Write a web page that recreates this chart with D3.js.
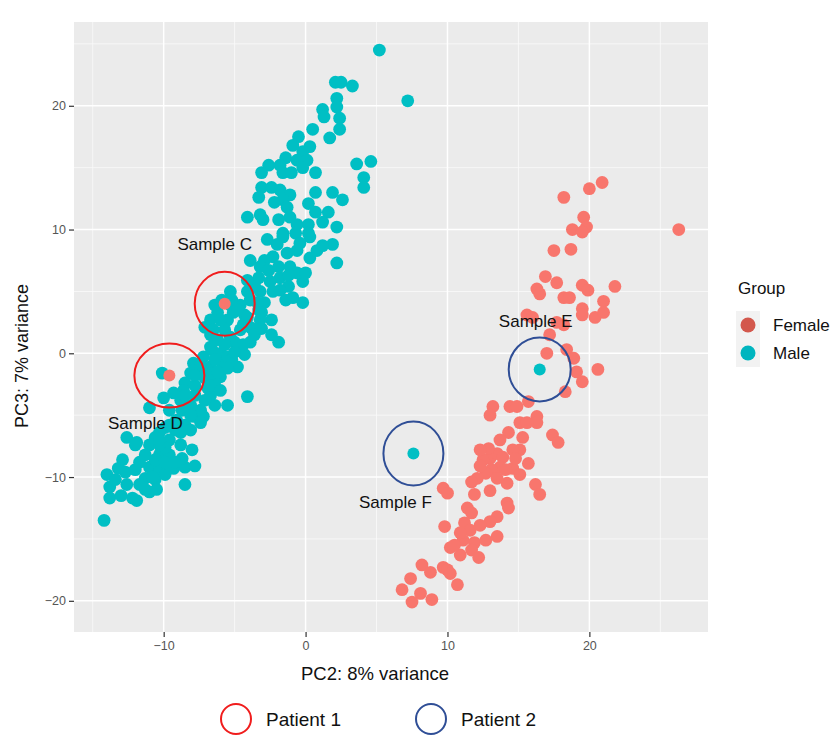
<!DOCTYPE html>
<html>
<head>
<meta charset="utf-8">
<script src="https://cdn.jsdelivr.net/npm/d3@7"></script>
<style>
  body { margin: 0; background: #fff; }
  text { font-family: "Liberation Sans", Arial, sans-serif; }
</style>
</head>
<body>
<svg id="vis"></svg>
<script>
  // PC2 / PC3 scores, [PC2, PC3]
  var male = [
    [5.2,24.5],[2.1,21.9],[2.5,21.9],[3.3,21.6],[7.2,20.4],[2.2,20.6],[2.2,19.9],[1.2,19.7],[1.3,19.1],[2.4,19.0],
    [2.4,18.1],[1.7,17.4],[0.5,18.1],[-0.5,17.5],[-0.9,16.8],[0.3,16.7],[-0.2,16.3],[-1.4,15.8],[-0.6,15.6],[0.1,15.6],
    [-1.8,15.2],[-2.6,15.2],[-3.1,14.6],[-1.6,14.6],[-1.0,14.6],[-0.2,15.0],[0.7,14.6],[3.6,15.3],[4.6,15.5],[4.1,14.2],
    [4.1,13.4],[-3.1,13.4],[-2.4,13.4],[-1.8,13.2],[-1.1,12.8],[-3.3,12.6],[-2.2,12.2],[-1.6,12.4],[0.7,13.0],[1.9,13.0],
    [2.6,12.4],[0.2,12.1],[0.7,11.4],[1.6,11.4],[1.2,10.6],[2.2,10.2],[-1.3,11.8],[-4.1,11.0],[-3.2,11.2],[-3.0,10.8],
    [-1.9,10.8],[-1.1,11.0],[-0.6,10.4],[0.2,10.4],[-1.6,9.7],[-0.7,9.7],[0.2,9.7],
    [-3.9,7.5],[-2.7,9.2],[-2.0,8.8],[-1.6,9.4],[0.3,9.4],[0.8,8.3],[-0.6,8.3],[-1.3,8.1],[-2.3,7.8],[-2.9,7.5],
    [-3.2,7.0],[-2.6,6.7],[-1.9,7.0],[-1.1,7.0],[-0.2,5.8],[-0.6,6.5],[-1.8,6.1],[-2.5,5.8],[-3.3,6.1],[-3.7,5.4],
    [-4.1,5.0],[-3.2,5.0],[-2.3,5.0],[-0.9,4.5],[-0.2,4.1],[-2.9,4.1],[-3.4,4.1],[-3.9,4.3],
    [-2.4,2.7],[-2.4,1.5],[-1.9,0.9],[-3.2,2.7],[-3.9,2.1],[-4.6,1.9],[-5.3,5.0],[-5.9,4.3],[-6.2,3.3],[-6.7,2.7],
    [-7.1,2.1],[-6.5,1.9],[-5.5,2.7],[-5.1,3.3],
    [-4.8,-1.1],[-6.0,0.0],[-6.7,0.5],[-7.2,-0.3],[-7.9,-0.8],[-8.1,-1.6],[-7.4,-1.6],[-6.7,-1.1],[-5.3,1.3],[-6.2,1.1],
    [-4.6,0.5],[-1.2,5.4],[-4.1,-3.5],[-5.5,-4.2],[-10.0,-3.6],[-11.0,-4.4],[-10.1,-1.6],[-5.7,-0.9],[-6.0,-1.9],[-3.9,0.9],
    [-5.0,0.9],[-3.7,1.9],[-4.3,3.1],[-4.6,3.9],[-5.7,1.9],[-4.1,5.9],
    [-8.5,-2.4],[-7.8,-2.6],[-7.1,-2.0],[-6.4,-2.3],[-8.8,-3.8],[-8.1,-4.2],[-7.4,-4.6],[-6.7,-3.4],[-6.4,-4.2],[-7.9,-5.1],
    [-7.2,-5.1],[-8.5,-5.8],[-9.2,-6.2],[-9.9,-6.0],[-10.3,-6.4],[-10.6,-6.8],[-9.6,-7.0],[-8.8,-7.4],[-8.1,-6.2],[-11.0,-7.4],
    [-11.3,-8.2],[-10.3,-8.2],[-9.6,-8.2],[-11.7,-8.8],[-11.0,-9.2],[-10.3,-9.4],[-12.0,-9.4],[-11.3,-10.1],[-10.6,-10.2],[-12.6,-6.8],
    [-11.9,-7.2],[-12.9,-8.6],[-14.0,-9.8],[-13.8,-10.8],[-13.8,-11.7],[-12.6,-10.6],[-12.2,-11.7],[-11.9,-11.9],[-11.0,-11.2],[-10.8,-10.0],
    [-9.3,-9.3],[-8.5,-9.2],[-7.8,-9.1],[-8.5,-10.6],[-14.2,-13.5],[-6.9,-2.8],[-7.4,-5.6],[-6.6,-1.6],[-5.9,-0.7],[-9.3,-3.2],
    [-8.6,-3.0],[-9.1,-5.4],[-8.7,-4.6],[-12.0,-7.4],[-13.4,-10.2],[-13.0,-11.5],[-11.7,-10.6],[-9.9,-9.8],[-10.5,-11.0],[-8.0,-7.8],
    [-6.6,0.3],[-5.5,-0.3],[-7.7,-0.9],[-6.4,3.9],[-5.2,4.3],[2.2,7.3],[1.9,8.8],[0.0,6.5],
    [-9.9,-7.6],[-10.6,-8.6],[-9.6,-4.6],[-8.5,-3.4],[-7.8,-3.4],[-7.1,-3.8],[-6.7,-2.6],[-6.0,-3.0],[-7.4,-0.9],[-6.4,-0.5],
    [-5.7,0.7],[-6.7,1.5],[-6.0,2.7],[-5.3,3.9],[-4.4,2.3],[-3.3,3.5],[-4.3,-0.1],[-5.2,-0.5],[-8.8,-6.4],[-9.6,-9.0],
    [-10.3,-7.4],[-7.8,-1.8],[-8.7,-8.5],
    [-3.6,5.5],[-4.8,3.5],[-4.1,2.9],[-3.1,3.3],[-3.6,1.5],[-3.1,2.0],[-4.4,0.7],[-5.0,0.1],[-5.5,-1.2],[-6.2,-1.5],
    [-8.1,-5.0],[-9.6,-5.8],[-10.3,-7.0],[-9.9,-8.8],[-9.2,-8.8],[-11.3,-11.0],[-12.7,-9.6],[-13.2,-9.3],
    [-0.4,8.9],[1.2,8.7],[0.3,7.7],[-1.2,6.3],[-1.8,5.1],[-1.4,4.3]
  ]

  var female = [
    [20.9,13.8],[20.0,13.3],[18.2,12.6],[19.6,11.0],[19.8,10.2],[18.8,10.0],[19.5,9.8],[26.3,10.0],[17.5,8.3],[18.7,8.4],
    [16.9,6.2],[17.7,5.7],[16.3,5.2],[16.5,4.8],[19.5,5.5],[19.9,5.1],[21.8,5.4],[18.2,4.5],[18.6,4.5],[21.0,4.2],
    [19.5,3.6],[19.5,3.1],[20.4,2.9],[21.0,3.3],[15.6,3.1],[16.0,2.9],[17.7,2.5],[18.2,2.3],[17.2,1.5],[17.0,0.0],
    [18.4,0.3],[18.9,-0.4],[20.6,-1.3],[19.1,-1.5],[19.5,-2.3],[18.3,-3.1],[15.7,-3.9],[14.4,-4.3],[14.9,-4.3],[13.2,-4.3],
    [13.0,-5.0],[16.3,-5.1],[16.3,-5.6],[15.1,-5.6],[15.6,-5.6],[14.3,-6.4],[15.3,-6.8],[13.7,-7.0],[17.4,-6.6],[17.8,-7.2],
    [15.1,-7.8],[13.0,-8.5],[12.5,-8.6],[13.5,-8.1],[13.9,-8.4],[13.7,-9.2],[13.1,-9.4],[14.6,-9.3],[15.7,-8.9],[14.2,-10.5],
    [13.5,-10.1],[12.7,-9.7],[12.1,-10.1],[11.7,-10.4],[16.2,-10.6],[16.5,-11.4],[9.7,-10.9],[10.0,-11.3],[11.9,-11.4],[14.2,-12.1],
    [14.3,-12.5],[11.4,-12.5],[11.7,-12.9],[13.5,-13.2],[13.0,-13.6],[9.8,-14.0],[11.2,-13.7],[11.6,-14.3],[10.2,-15.7],[11.1,-15.1],
    [11.9,-15.3],[13.5,-14.8],[10.9,-16.3],[11.7,-15.9],[12.2,-16.5],[8.2,-17.1],[8.8,-17.7],[9.7,-17.3],[10.0,-17.5],[10.2,-17.8],
    [10.7,-18.7],[7.4,-18.2],[6.8,-19.1],[8.1,-19.4],[8.9,-19.9],[7.5,-20.1],[14.6,-7.8],[12.3,-9.1],[10.9,-14.5],[10.5,-15.5],
    [12.9,-7.7],[14.1,-9.4],[14.8,-8.5],[15.1,-9.8],[12.3,-7.8],[13.0,-11.1],[12.3,-13.9],[12.7,-15.1]
  ]

  // circled samples
  var sampleNames = ['Sample C', 'Sample D', 'Sample E', 'Sample F']
  var sampleGroup = ['Female', 'Female', 'Male', 'Male']
  var samplePC2 = [-5.7, -9.6, 16.5, 7.6]
  var samplePC3 = [4.0, -1.8, -1.3, -8.1]
  var samplePatient = [1, 1, 2, 2]

  var groups = ['Female', 'Male']
  var patients = ['Patient 1', 'Patient 2']

  var xMajor = [-10, 0, 10, 20]
  var xMinor = [-15, -5, 5, 15, 25]
  var yMajor = [-20, -10, 0, 10, 20]
  var yMinor = [-15, -5, 5, 15, 25]

  // colours
  var pointColor = {Female: '#f8766d', Male: '#00bfc4'}
  var keyColor = {Female: '#d3584d', Male: '#00b5bf'}
  var ringColor = {1: '#f01d1d', 2: '#2f4e96'}

  // label offsets and ring widths (px) for each circled sample
  var labelDx = [-10, -24, -4, -18]
  var labelDy = [-54, 53, -42, 54]
  var ringRx = [30, 35, 31, 30]

  var svg = d3.select('#vis')
    .attr('width', 835)
    .attr('height', 738)

  var panelL = 74, panelR = 708, panelT = 22, panelB = 632

  var x = d3.scaleLinear().domain([-16.32, 28.36]).range([panelL, panelR])
  var y = d3.scaleLinear().domain([-22.52, 26.77]).range([panelB, panelT])

  // panel
  svg.append('rect')
    .attr('x', panelL).attr('y', panelT)
    .attr('width', panelR - panelL).attr('height', panelB - panelT)
    .attr('fill', '#ebebeb')

  // grid lines
  var grid = svg.append('g')
  grid.selectAll('.xminor').data(xMinor).enter().append('line')
    .attr('x1', d => x(d)).attr('x2', d => x(d)).attr('y1', panelT).attr('y2', panelB)
    .attr('stroke', '#fafafa').attr('stroke-width', 0.8)
  grid.selectAll('.yminor').data(yMinor).enter().append('line')
    .attr('y1', d => y(d)).attr('y2', d => y(d)).attr('x1', panelL).attr('x2', panelR)
    .attr('stroke', '#fafafa').attr('stroke-width', 0.8)
  grid.selectAll('.xmajor').data(xMajor).enter().append('line')
    .attr('x1', d => x(d)).attr('x2', d => x(d)).attr('y1', panelT).attr('y2', panelB)
    .attr('stroke', '#fff').attr('stroke-width', 1.5)
  grid.selectAll('.ymajor').data(yMajor).enter().append('line')
    .attr('y1', d => y(d)).attr('y2', d => y(d)).attr('x1', panelL).attr('x2', panelR)
    .attr('stroke', '#fff').attr('stroke-width', 1.5)

  // axes
  svg.append('g')
    .attr('transform', 'translate(0,' + panelB + ')')
    .call(d3.axisBottom(x).tickValues(xMajor).tickSize(5).tickPadding(4))
  svg.append('g')
    .attr('transform', 'translate(' + panelL + ',0)')
    .call(d3.axisLeft(y).tickValues(yMajor).tickSize(5).tickPadding(3))
  svg.selectAll('.domain').remove()
  svg.selectAll('.tick line').attr('stroke', '#333').attr('stroke-width', 1.2)
  svg.selectAll('.tick text')
    .attr('fill', '#555')
    .style('font-size', '12.5px')
    .style('font-family', '"Liberation Sans", Arial, sans-serif')

  // points
  svg.append('g').selectAll('circle')
    .data(male).enter().append('circle')
    .attr('cx', d => x(d[0])).attr('cy', d => y(d[1]))
    .attr('r', 6.4).attr('fill', pointColor.Male)

  svg.append('g').selectAll('circle')
    .data(female).enter().append('circle')
    .attr('cx', d => x(d[0])).attr('cy', d => y(d[1]))
    .attr('r', 6.4).attr('fill', pointColor.Female)

  // circled samples
  var samples = sampleNames.map((n, i) => ({name: n, group: sampleGroup[i], pc2: samplePC2[i], pc3: samplePC3[i], patient: samplePatient[i], i: i}))

  svg.append('g').selectAll('circle')
    .data(samples).enter().append('circle')
    .attr('cx', d => x(d.pc2)).attr('cy', d => y(d.pc3))
    .attr('r', 6).attr('fill', d => pointColor[d.group])

  svg.append('g').selectAll('ellipse')
    .data(samples).enter().append('ellipse')
    .attr('cx', d => x(d.pc2)).attr('cy', d => y(d.pc3))
    .attr('rx', d => ringRx[d.i]).attr('ry', 32)
    .attr('fill', 'none')
    .attr('stroke', d => ringColor[d.patient])
    .attr('stroke-width', 2)

  svg.append('g').selectAll('text')
    .data(samples).enter().append('text')
    .attr('x', d => x(d.pc2) + labelDx[d.i])
    .attr('y', d => y(d.pc3) + labelDy[d.i])
    .attr('text-anchor', 'middle')
    .style('font-size', '17px')
    .attr('fill', '#111')
    .text(d => d.name)

  // axis titles
  svg.append('text')
    .attr('x', 375).attr('y', 680)
    .attr('text-anchor', 'middle')
    .style('font-size', '18.5px')
    .attr('fill', '#111')
    .text('PC2: 8% variance')

  svg.append('text')
    .attr('transform', 'translate(28,356) rotate(-90)')
    .attr('text-anchor', 'middle')
    .style('font-size', '18px')
    .attr('fill', '#111')
    .text('PC3: 7% variance')

  // group legend
  var legend = svg.append('g').attr('transform', 'translate(736,0)')
  legend.append('text')
    .attr('x', 2).attr('y', 294)
    .style('font-size', '17px')
    .attr('fill', '#111')
    .text('Group')
  var keys = legend.selectAll('.key').data(groups).enter().append('g')
    .attr('transform', (d, i) => 'translate(0,' + (311 + i * 28) + ')')
  keys.append('rect')
    .attr('width', 24).attr('height', 28)
    .attr('fill', '#f2f2f2')
  keys.append('circle')
    .attr('cx', 12).attr('cy', 14).attr('r', 7.5)
    .attr('fill', d => keyColor[d])
  keys.append('text')
    .attr('x', 37).attr('y', 20)
    .style('font-size', '17px')
    .attr('fill', '#111')
    .text(d => d)

  // patient legend
  var pl = svg.append('g').selectAll('g')
    .data(patients).enter().append('g')
    .attr('transform', (d, i) => 'translate(' + (236 + i * 195) + ',719)')
  pl.append('circle')
    .attr('r', 15)
    .attr('fill', 'none')
    .attr('stroke', (d, i) => ringColor[i + 1])
    .attr('stroke-width', 2)
  pl.append('text')
    .attr('x', 30).attr('y', 7)
    .style('font-size', '19px')
    .attr('fill', '#111')
    .text(d => d)
</script>
</body>
</html>
